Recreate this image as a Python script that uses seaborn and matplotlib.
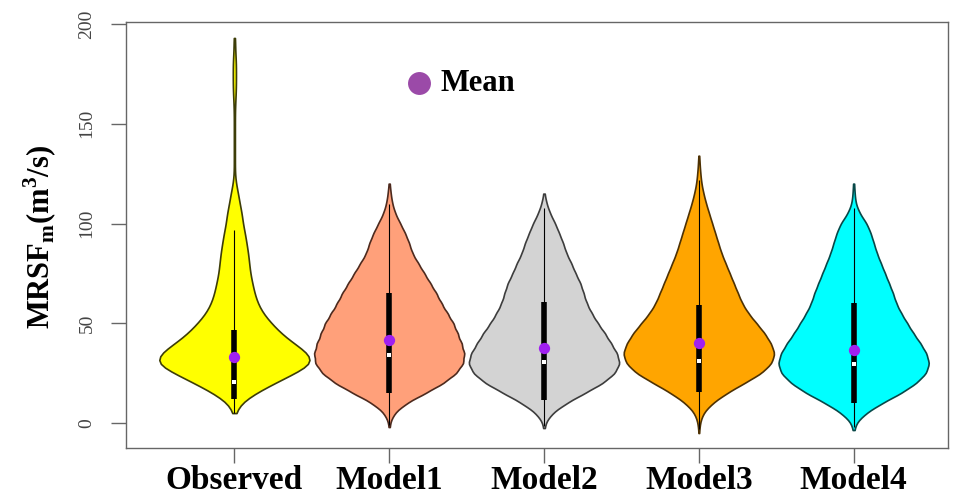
import numpy as np
import pandas as pd
import matplotlib
matplotlib.use("Agg")
import matplotlib.pyplot as plt
import seaborn as sns

# ---------------- data ----------------
categories = ["Observed", "Model1", "Model2", "Model3", "Model4"]

# violin outline: value levels and half-widths (px)
obs_levels = [5, 10, 15, 20, 25, 30, 35, 40, 45, 50, 55, 60, 65, 70, 75, 80, 85, 90,
              95, 100, 105, 110, 115, 120, 125, 130, 135, 140, 145, 150, 155, 160,
              165, 170, 175, 180, 185, 190, 193]
obs_width = [1, 6, 20, 38, 57, 75, 70, 56, 44, 35, 27, 22, 19, 17, 15, 14, 13, 11.5,
             10, 8, 7, 5, 3.5, 1.5, 0.6, 0.5, 0.5, 0.5, 0.5, 0.5, 0.6, 0.8,
             1.3, 1.5, 1.5, 1.5, 1, 0.5, 0.4]

m1_levels = [-2, 0, 5, 10, 15, 20, 25, 30, 35, 40, 45, 50, 55, 60, 65, 70, 75, 80, 85,
             90, 95, 100, 105, 110, 115, 120]
m1_width = [0.3, 0.5, 5, 17, 36, 54, 67, 74, 75, 72, 68, 64, 58, 52, 47, 41, 35, 29, 23,
            20, 16, 11, 6, 3, 1.5, 0.5]

m2_levels = [-2.5, 0, 5, 10, 15, 20, 25, 30, 35, 40, 45, 50, 55, 60, 65, 70, 75, 80,
             85, 90, 95, 100, 105, 110, 115]
m2_width = [0.3, 1, 8, 22, 40, 58, 70, 75, 72, 66, 60, 53, 47, 42, 39, 36, 31, 27,
            22, 19, 15, 11, 6, 2.5, 0.5]

m3_levels = [-5, 0, 5, 10, 15, 20, 25, 30, 35, 40, 45, 50, 55, 60, 65, 70, 75, 80, 85,
             90, 95, 100, 105, 110, 115, 120, 125, 130, 134]
m3_width = [0.3, 1, 4, 13, 27, 44, 61, 71, 74, 70, 64, 56, 48, 42, 38, 34, 30, 26, 22,
            19, 16, 13, 10, 7, 4.5, 2.5, 1.5, 0.7, 0.3]

m4_levels = [-3.5, 0, 5, 10, 15, 20, 25, 30, 35, 40, 45, 50, 55, 60, 65, 70, 75, 80,
             85, 90, 95, 100, 105, 110, 115, 120]
m4_width = [0.3, 2, 12, 28, 47, 62, 72, 75, 72, 66, 59, 53, 47, 42, 39, 35, 31, 27,
            23, 20, 17, 13, 6, 2, 1, 0.5]

# box statistics drawn inside each violin
q1 = [12, 15, 11.5, 15.5, 10]
median = [20.5, 34, 30.5, 31, 29.5]
q3 = [46.5, 65, 60.5, 59, 60]
whisk_lo = [5, -1, -1.5, -3, -2]
whisk_hi = [97, 110, 108, 122, 108]
means = [33, 41.6, 37.5, 40, 36.6]

fill_colors = ["#FFFF00", "#FFA07A", "#D3D3D3", "#FFA500", "#00FFFF"]
edge_colors = ["#3d3d08", "#4d2a1e", "#3d3d3d", "#4d3104", "#084848"]

# ---------------- build frequency table ----------------
groups = [(obs_levels, obs_width), (m1_levels, m1_width), (m2_levels, m2_width),
          (m3_levels, m3_width), (m4_levels, m4_width)]
rows = []
for cat, (lv, wd) in zip(categories, groups):
    counts = np.maximum(np.round(np.array(wd) * 4).astype(int), 1)
    vals = np.repeat(np.array(lv, dtype=float), counts)
    rows.append(pd.DataFrame({"group": cat, "value": vals}))
df = pd.concat(rows, ignore_index=True)

# ---------------- plot ----------------
sns.set_style("ticks")
plt.rcParams["font.family"] = ["Liberation Serif", "DejaVu Serif"]
plt.rcParams["mathtext.fontset"] = "custom"
plt.rcParams["mathtext.rm"] = "Liberation Serif"
plt.rcParams["mathtext.bf"] = "Liberation Serif:bold"
plt.rcParams["text.color"] = "black"
plt.rcParams["xtick.color"] = "black"
plt.rcParams["ytick.color"] = "black"

fig = plt.figure(figsize=(9.62, 4.98), dpi=100)
ax = fig.add_axes([0.131, 0.1004, 0.8545, 0.8554])

sns.violinplot(data=df, x="group", y="value", hue="group", order=categories,
               hue_order=categories, palette=fill_colors, legend=False,
               saturation=1, inner=None, cut=0, density_norm="width", width=0.97,
               bw_method=0.12, linewidth=1.2, linecolor="black", ax=ax)

for coll, ec in zip(ax.collections, edge_colors):
    coll.set_edgecolor(ec)

pos = np.arange(len(categories))
ax.vlines(pos, whisk_lo, whisk_hi, color="black", lw=0.8, zorder=3)
ax.vlines(pos, q1, q3, color="black", lw=4.0, zorder=3)
ax.scatter(pos, median, marker="s", s=6, color="white", zorder=4, linewidths=0)
ax.scatter(pos, means, marker="o", s=66, color="#A020F0", zorder=5, linewidths=0)

# legend-like annotation
ax.scatter([1.19], [170.4], s=16.5 ** 2, color="#9B4AA8", linewidths=0, zorder=5)
ax.text(1.33, 170.4, "Mean", fontsize=22, fontweight="bold", va="center", ha="left",
        color="black")

ax.set_xlim(-0.70, 4.61)
ax.set_ylim(-12.5, 201)
ax.set_yticks([0, 50, 100, 150, 200])
ax.set_yticklabels(["0", "50", "100", "150", "200"], rotation=90, va="center",
                   fontsize=14, color="#444444")
ax.set_xticks(pos)
ax.set_xticklabels(categories, fontsize=24, fontweight="bold", color="black")
ax.set_xlabel("")
ax.set_ylabel("")
ax.tick_params(axis="both", length=11, width=1, color="#666666", direction="out")
ax.tick_params(axis="y", pad=11)
ax.tick_params(axis="x", pad=1)
for sp in ax.spines.values():
    sp.set_visible(True)
    sp.set_color("#666666")
    sp.set_linewidth(1.0)

fig.text(40 / 962, 1 - 237 / 498,
         r"$\mathbf{MRSF}_{\mathbf{m}}\mathbf{(m}^{\mathbf{3}}\mathbf{/s)}$",
         rotation=90, ha="center", va="center", fontsize=22, color="black")

fig.savefig("out.png", dpi=100)
